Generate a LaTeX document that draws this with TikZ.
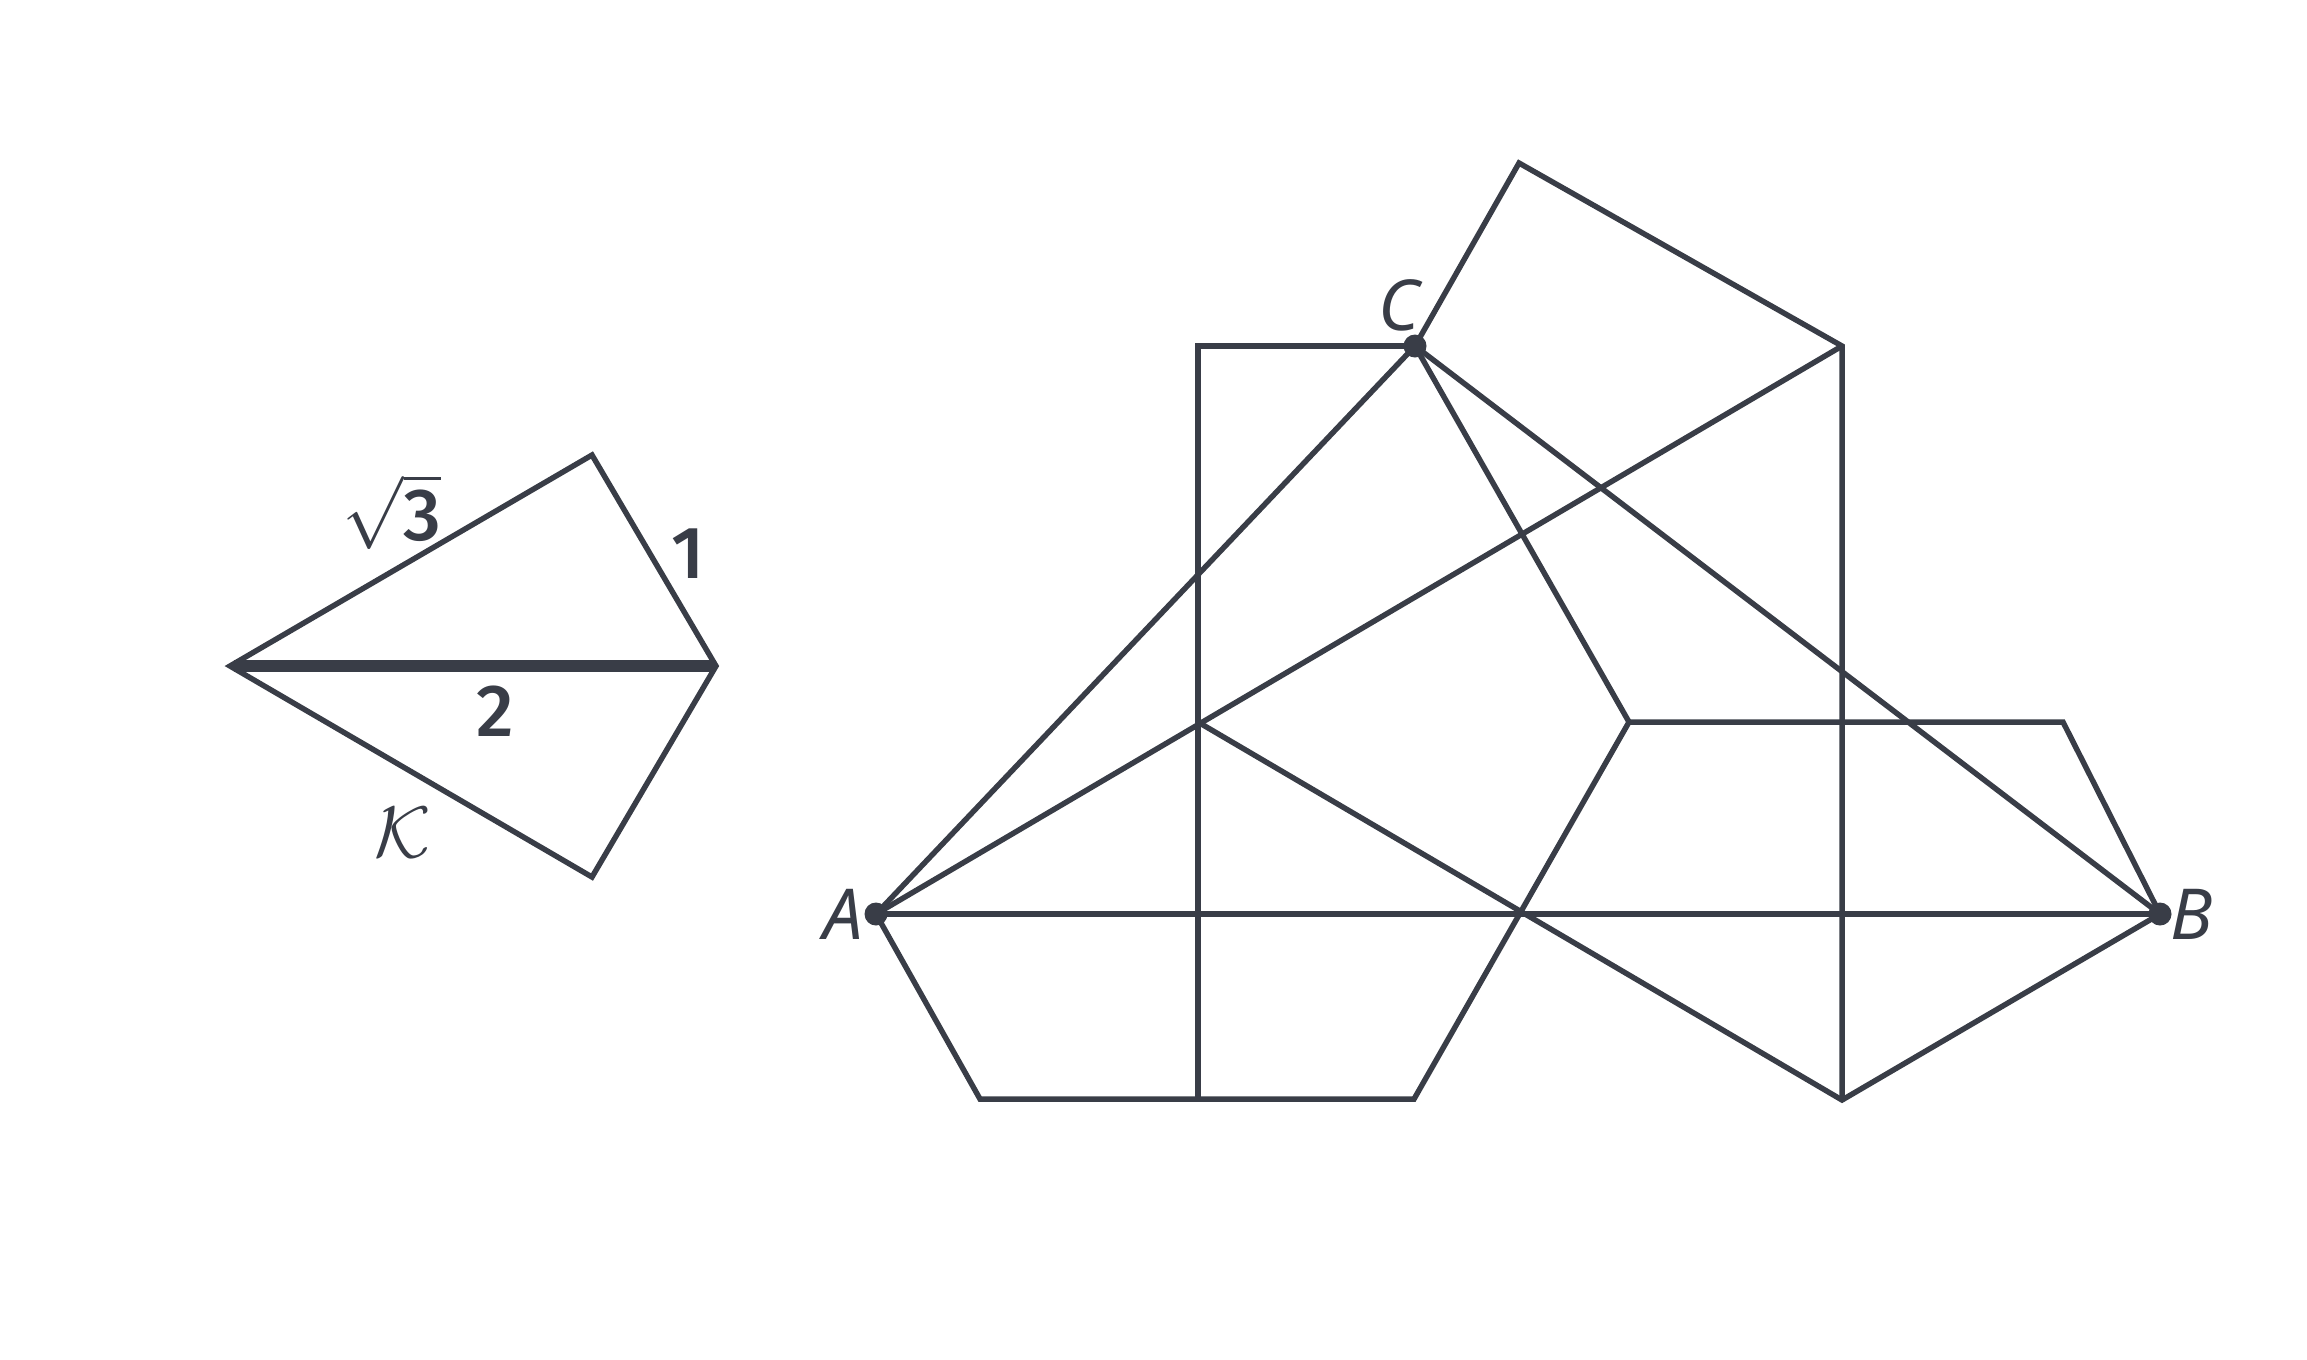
\documentclass[tikz,border=0pt]{standalone}
\usepackage{fontspec}
\setmainfont{Noto Sans}
\newfontfamily\numfont{Fira Sans}[UprightFont={* Medium}]
\definecolor{ink}{HTML}{393D47}
\begin{document}
\begin{tikzpicture}[x=0.01cm,y=-0.01cm,line join=miter,
  edge/.style={draw=ink,line width=1.55pt},
  heavy/.style={draw=ink,line width=3.4pt},
  dotnode/.style={circle,fill=ink,inner sep=0pt,minimum size=0.23cm},
  lab/.style={text=ink,font=\fontsize{20}{24}\selectfont\itshape,inner sep=0pt},
  numlab/.style={text=ink,font=\fontsize{21}{25}\selectfont\numfont,inner sep=0pt}]
\useasboundingbox (0,0) rectangle (2307,1359);
% left kite
\coordinate (kL) at (230,666);
\coordinate (kT) at (592,455);
\coordinate (kR) at (716,666);
\coordinate (kB) at (592,877);
\coordinate (kLh) at (234,666);
\coordinate (kRh) at (714,666);
\draw[edge] (kL) -- (kT) -- (kR) -- (kB) -- cycle;
\draw[heavy] (kLh) -- (kRh);
\node[numlab] (lsq) at (392,512) {$\sqrt{\hbox{\numfont 3}}$};
\node[numlab] (lone) at (688,554) {1};
\node[numlab] (ltwo) at (495,711) {2};
\node[text=ink,inner sep=0pt,font=\fontsize{22}{26}\selectfont] (lk) at (403,833) {$\mathcal{K}$};
% main figure
\coordinate (A) at (876,914);
\coordinate (B) at (2160,914);
\coordinate (C) at (1415,346);
\coordinate (D) at (1519,163);
\coordinate (E) at (1842,346);
\coordinate (P) at (1198,722);
\coordinate (G) at (1629,722);
\coordinate (H) at (2063,722);
\coordinate (Rt) at (1198,346);
\coordinate (Bl) at (980,1099);
\coordinate (Bm) at (1198,1099);
\coordinate (Br) at (1414,1099);
\coordinate (V) at (1842,1100);
\draw[edge] (A) -- (B);
\draw[edge] (A) -- (C);
\draw[edge] (A) -- (E);
\draw[edge] (C) -- (B);
\draw[edge] (C) -- (G) -- (Br) -- (Bl) -- (A);
\draw[edge] (C) -- (Rt) -- (Bm);
\draw[edge] (C) -- (D) -- (E) -- (V);
\draw[edge] (P) -- (V) -- (B);
\draw[edge] (G) -- (H) -- (B);
\node[dotnode] (dA) at (A) {};
\node[dotnode] (dB) at (B) {};
\node[dotnode] (dC) at (C) {};
\node[lab] (tA) at (843,914) {A};
\node[lab] (tB) at (2192,914) {B};
\node[lab] (tC) at (1399,305) {C};
\end{tikzpicture}
\end{document}
